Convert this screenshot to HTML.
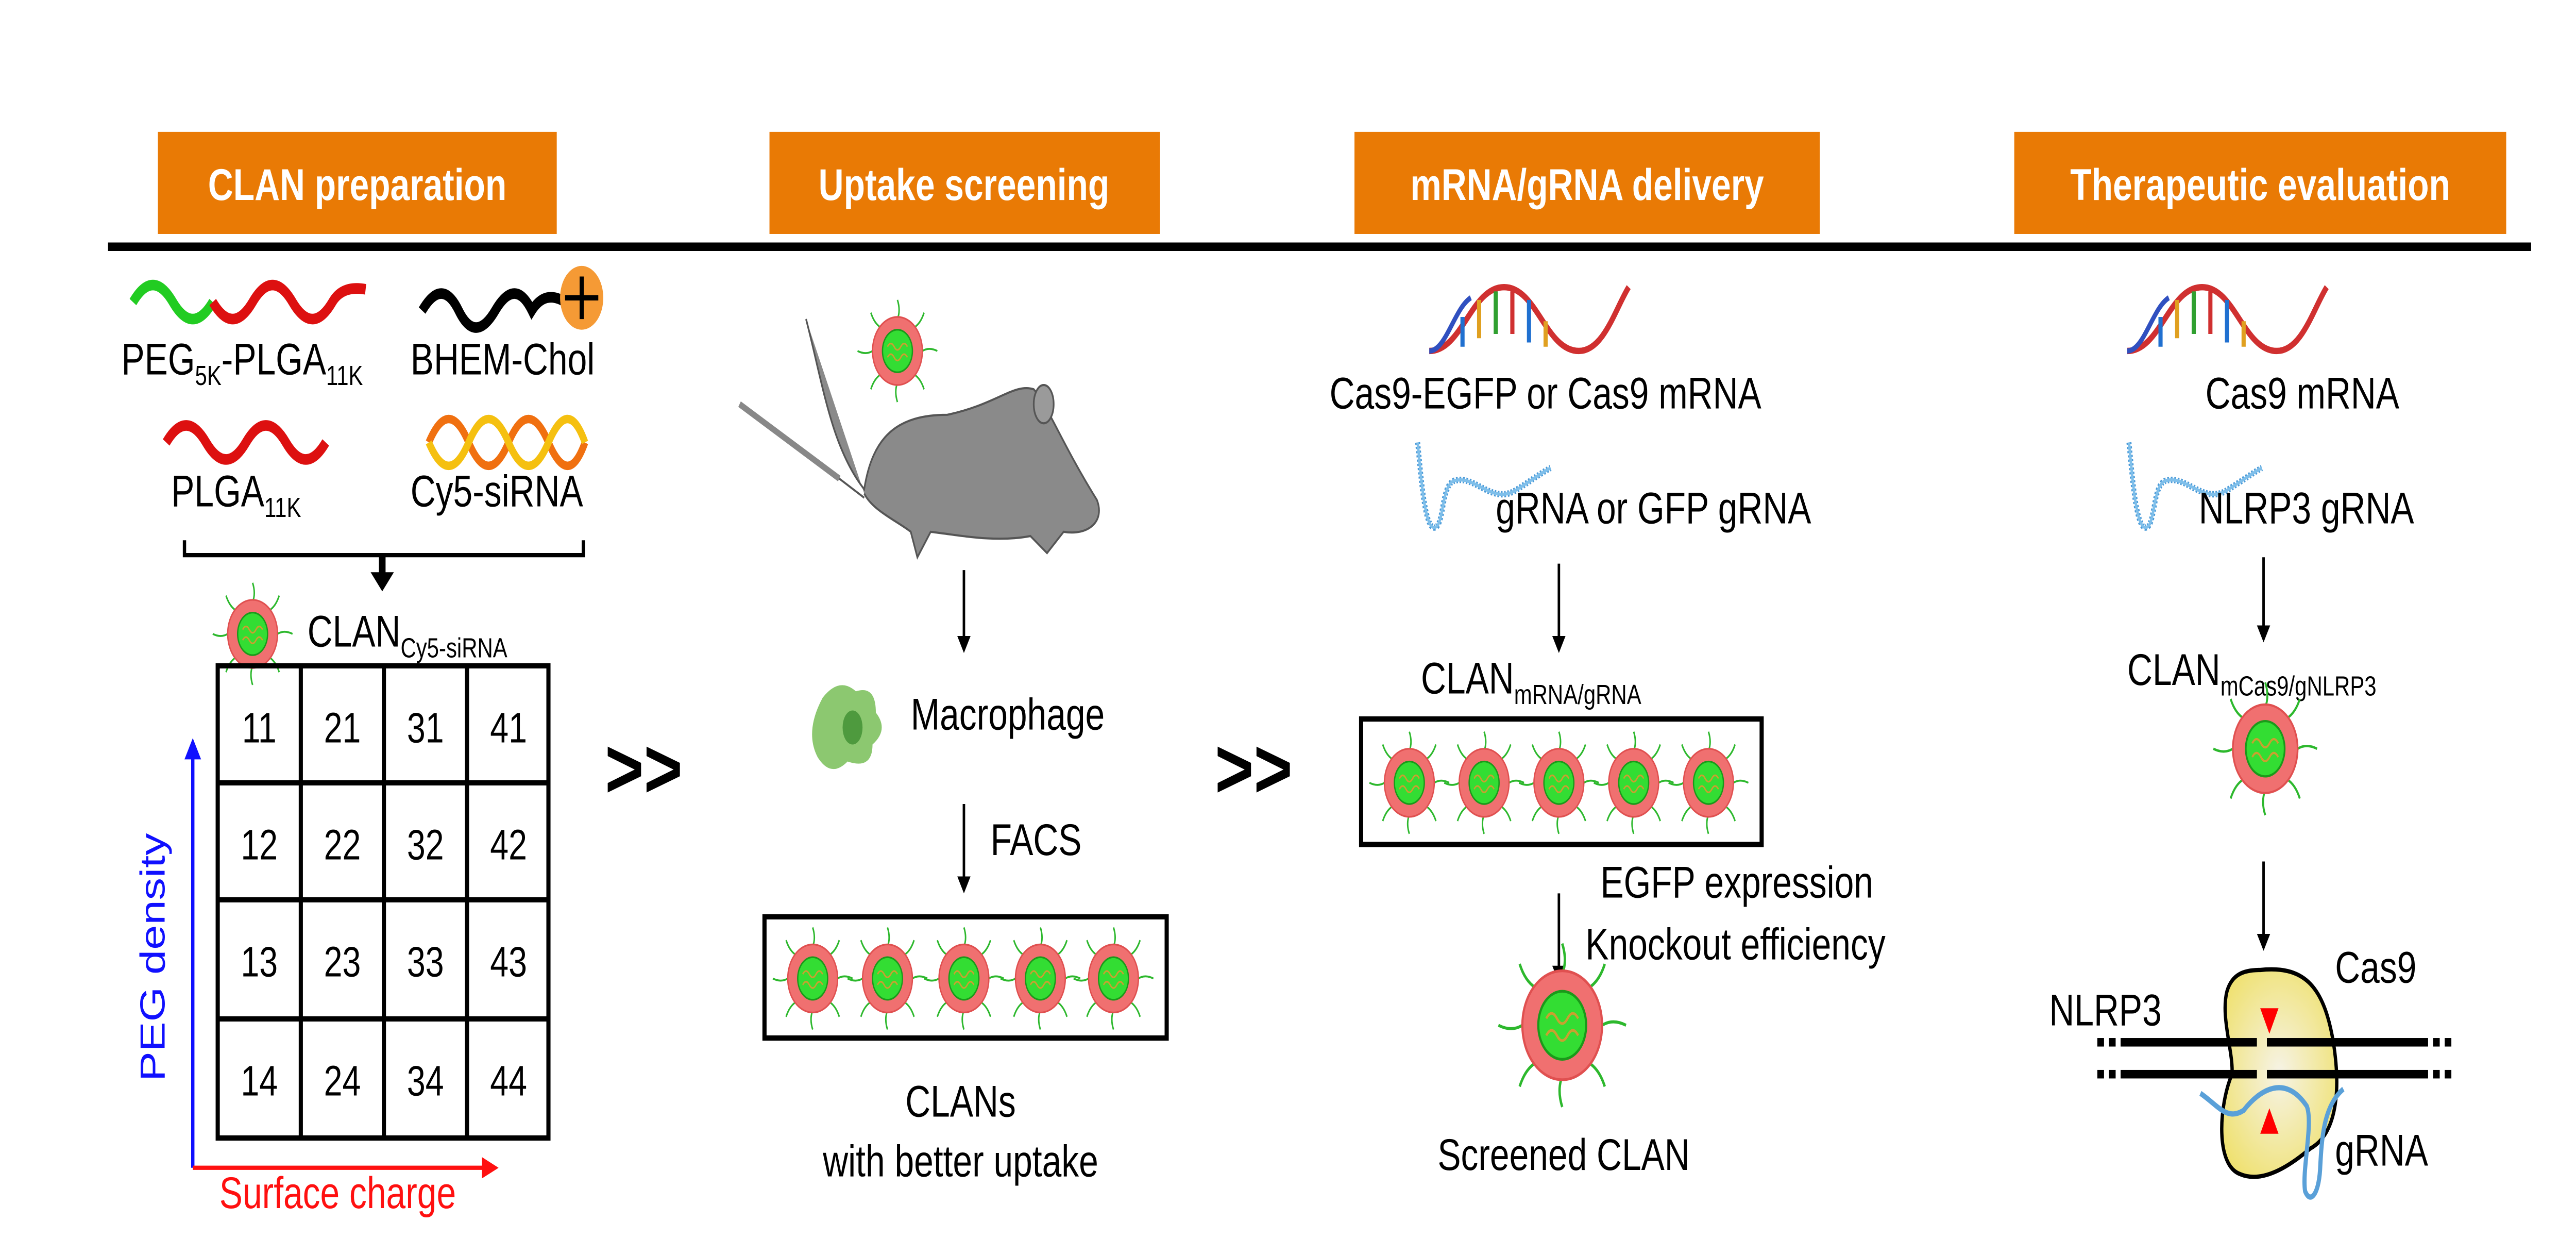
<!DOCTYPE html>
<html><head><meta charset="utf-8"><style>
html,body{margin:0;padding:0;background:#fff;width:100%;height:100%;overflow:hidden}
svg{display:block;position:fixed;left:0;top:0;width:100vw;height:100vh}
text{font-family:"Liberation Sans",Arial,sans-serif}
</style></head><body>
<svg viewBox="0 0 1550 590" preserveAspectRatio="none" xmlns="http://www.w3.org/2000/svg">
<defs>
<radialGradient id="yg" cx="0.5" cy="0.5" r="0.6"><stop offset="0" stop-color="#f6f3e6"/><stop offset="1" stop-color="#efe170"/></radialGradient>
<g id="np">
<g stroke="#2db82d" stroke-width="0.9" fill="none">
<path d="M0,-15 q2,-4 0,-9"/><path d="M0,15 q-2,4 0,9"/><path d="M-15,0 q-4,2 -9,0"/><path d="M15,0 q4,-2 9,0"/>
<path d="M10,-11 q4,-2 6,-7"/><path d="M-10,-11 q-4,-2 -6,-7"/><path d="M10,11 q4,2 6,7"/><path d="M-10,11 q-4,2 -6,7"/>
</g>
<ellipse rx="15" ry="16" fill="#f07070" stroke="#e05050" stroke-width="0.8"/>
<ellipse rx="9" ry="10" fill="#33dd33" stroke="#1a9a1a" stroke-width="0.8"/>
<path d="M-6,-2 q2,-3 4,0 t4,0 t4,0 M-6,3 q2,-3 4,0 t4,0 t4,0" stroke="#c9a030" stroke-width="0.8" fill="none"/>
</g>
<g id="helix">
<path d="M0,30 C20,30 25,0 45,0 C65,0 70,30 90,30 C105,30 112,10 120,0" stroke="#d03030" stroke-width="3" fill="none"/>
<path d="M0,30 C10,30 15,10 25,5" stroke="#3050c0" stroke-width="2.5" fill="none"/>
<g stroke-width="2.5"><line x1="20" y1="28" x2="20" y2="14" stroke="#2070d0"/><line x1="30" y1="24" x2="30" y2="6" stroke="#e0a020"/><line x1="40" y1="22" x2="40" y2="2" stroke="#30a030"/><line x1="50" y1="22" x2="50" y2="2" stroke="#d03030"/><line x1="60" y1="26" x2="60" y2="6" stroke="#2070d0"/><line x1="70" y1="28" x2="70" y2="16" stroke="#e0a020"/></g>
</g>
<g id="hair">
<path d="M0,0 C2,15 4,40 10,40 C16,40 14,20 22,18 C35,15 45,30 60,22 C70,17 75,14 80,12" stroke="#4a9ad8" stroke-width="3" fill="none" stroke-dasharray="1 1"/>
<path d="M0,0 C2,15 4,40 10,40 C16,40 14,20 22,18 C35,15 45,30 60,22 C70,17 75,14 80,12" stroke="#7fbfea" stroke-width="1.5" fill="none"/>
</g>
<marker id="ah" markerWidth="8" markerHeight="8" refX="4" refY="4" orient="auto" markerUnits="userSpaceOnUse"><path d="M0,0 L8,4 L0,8 z" fill="#000"/></marker>
<marker id="ab" markerWidth="10" markerHeight="10" refX="5" refY="5" orient="auto" markerUnits="userSpaceOnUse"><path d="M0,0 L10,5 L0,10 z" fill="#1010ff"/></marker>
<marker id="ar" markerWidth="10" markerHeight="10" refX="5" refY="5" orient="auto" markerUnits="userSpaceOnUse"><path d="M0,0 L10,5 L0,10 z" fill="#ff1010"/></marker>
</defs>
<g fill="#e97a05">
<rect x="95" y="62" width="240" height="48"/><rect x="463" y="62" width="235" height="48"/>
<rect x="815" y="62" width="280" height="48"/><rect x="1212" y="62" width="296" height="48"/>
</g>
<g fill="#fff" font-weight="bold" font-size="21" text-anchor="middle">
<text x="215" y="94">CLAN preparation</text><text x="580" y="94">Uptake screening</text>
<text x="955" y="94">mRNA/gRNA delivery</text><text x="1360" y="94">Therapeutic evaluation</text>
</g>
<rect x="65" y="114" width="1458" height="4" fill="#000"/>
<path d="M80,142 q12,-16 24,0 t24,0" stroke="#22cc22" stroke-width="5" fill="none"/>
<path d="M128,142 q12,16 24,0 t24,0 t24,0 q6,-8 20,-6" stroke="#dd1010" stroke-width="5" fill="none"/>
<path d="M254,146 q12,-16 22,0 t22,0 t22,0 q8,-10 20,-4" stroke="#000" stroke-width="5" fill="none"/>
<ellipse cx="350" cy="140" rx="13" ry="15" fill="#f59a35"/>
<path d="M350,130 v20 M340,140 h20" stroke="#000" stroke-width="2.5"/>
<g font-size="21" fill="#000">
<text x="73" y="176">PEG<tspan font-size="13" dy="5">5K</tspan><tspan dy="-5">-PLGA</tspan><tspan font-size="13" dy="5">11K</tspan></text>
<text x="247" y="176">BHEM-Chol</text>
<text x="103" y="238">PLGA<tspan font-size="13" dy="5">11K</tspan></text>
<text x="247" y="238">Cy5-siRNA</text>
<text x="185" y="304">CLAN<tspan font-size="13" dy="5">Cy5-siRNA</tspan></text>
</g>
<path d="M100,208 q12,-16 24,0 t24,0 t24,0 t24,0" stroke="#dd1010" stroke-width="5" fill="none"/>
<path d="M258,208 q12,-22 24,0 t24,0 t24,0 t22,0" stroke="#f07010" stroke-width="4" fill="none"/>
<path d="M258,208 q12,22 24,0 t24,0 t24,0 t22,0" stroke="#f5c010" stroke-width="4" fill="none"/>
<path d="M111,254 v7 h240 v-7" stroke="#000" stroke-width="2" fill="none"/>
<path d="M230,261 v10" stroke="#000" stroke-width="4"/>
<path d="M223,269 h14 l-7,9 z" fill="#000"/>
<use href="#np" x="152" y="298"/>
<g stroke="#000" stroke-width="2.5" fill="none">
<rect x="131" y="313" width="199" height="222"/>
<path d="M181,313 v222 M231,313 v222 M281,313 v222 M131,368 h199 M131,423 h199 M131,479 h199"/>
</g>
<g font-size="20" text-anchor="middle">
<text x="156" y="349">11</text><text x="206" y="349">21</text><text x="256" y="349">31</text><text x="306" y="349">41</text>
<text x="156" y="404">12</text><text x="206" y="404">22</text><text x="256" y="404">32</text><text x="306" y="404">42</text>
<text x="156" y="459">13</text><text x="206" y="459">23</text><text x="256" y="459">33</text><text x="306" y="459">43</text>
<text x="156" y="515">14</text><text x="206" y="515">24</text><text x="256" y="515">34</text><text x="306" y="515">44</text>
</g>
<line x1="116" y1="549" x2="116" y2="352" stroke="#1010ff" stroke-width="2" marker-end="url(#ab)"/>
<line x1="116" y1="549" x2="295" y2="549" stroke="#ff1010" stroke-width="2" marker-end="url(#ar)"/>
<text x="0" y="0" font-size="21" fill="#1010ff" text-anchor="middle" transform="translate(99,450) rotate(-90)">PEG density</text>
<text x="132" y="568" font-size="21" fill="#ff1010">Surface charge</text>
<g font-size="40" font-weight="bold"><text x="364" y="375">&gt;&gt;</text><text x="731" y="375">&gt;&gt;</text></g>
<use href="#np" x="540" y="165"/>
<path d="M485,150 C495,180 500,210 520,230 C525,205 540,195 570,195 C600,190 610,180 622,183 C630,190 640,210 660,235 C665,245 655,252 640,250 L630,260 L620,252 C600,255 580,252 560,250 L552,262 L548,250 C540,245 525,240 520,232" fill="#8a8a8a" stroke="#555" stroke-width="1"/>
<ellipse cx="628" cy="190" rx="6" ry="9" fill="#9a9a9a" stroke="#555" stroke-width="1"/>
<line x1="445" y1="190" x2="505" y2="225" stroke="#888" stroke-width="3"/>
<line x1="505" y1="225" x2="520" y2="234" stroke="#555" stroke-width="1"/>
<line x1="580" y1="268" x2="580" y2="303" stroke="#000" stroke-width="1.5" marker-end="url(#ah)"/>
<path d="M495,328 q10,-10 20,-3 q12,-3 12,10 q8,8 -2,15 q0,12 -15,8 q-10,8 -18,-2 q-8,-12 3,-28 z" fill="#8cc870"/>
<ellipse cx="513" cy="342" rx="6" ry="8" fill="#4e9a3e"/>
<text x="548" y="343" font-size="21">Macrophage</text>
<line x1="580" y1="378" x2="580" y2="416" stroke="#000" stroke-width="1.5" marker-end="url(#ah)"/>
<text x="596" y="402" font-size="21">FACS</text>
<rect x="460" y="431" width="242" height="57" fill="none" stroke="#000" stroke-width="2.5"/>
<use href="#np" x="489" y="460"/><use href="#np" x="534" y="460"/><use href="#np" x="580" y="460"/><use href="#np" x="626" y="460"/><use href="#np" x="670" y="460"/>
<g font-size="21" text-anchor="middle"><text x="578" y="525">CLANs</text><text x="578" y="553">with better uptake</text></g>
<use href="#helix" x="860" y="135"/>
<text x="800" y="192" font-size="21">Cas9-EGFP or Cas9 mRNA</text>
<use href="#hair" x="853" y="208"/>
<text x="900" y="246" font-size="21">gRNA or GFP gRNA</text>
<line x1="938" y1="265" x2="938" y2="303" stroke="#000" stroke-width="1.5" marker-end="url(#ah)"/>
<text x="855" y="326" font-size="21">CLAN<tspan font-size="13" dy="5">mRNA/gRNA</tspan></text>
<rect x="819" y="338" width="241" height="59" fill="none" stroke="#000" stroke-width="2.5"/>
<use href="#np" x="848" y="368"/><use href="#np" x="893" y="368"/><use href="#np" x="938" y="368"/><use href="#np" x="983" y="368"/><use href="#np" x="1028" y="368"/>
<line x1="938" y1="420" x2="938" y2="458" stroke="#000" stroke-width="1.5" marker-end="url(#ah)"/>
<text x="963" y="422" font-size="21">EGFP expression</text>
<text x="954" y="451" font-size="21">Knockout efficiency</text>
<use href="#np" transform="translate(940,482) scale(1.6)"/>
<text x="865" y="550" font-size="21">Screened CLAN</text>
<use href="#helix" x="1280" y="135"/>
<text x="1327" y="192" font-size="21">Cas9 mRNA</text>
<use href="#hair" x="1281" y="208"/>
<text x="1323" y="246" font-size="21">NLRP3 gRNA</text>
<line x1="1362" y1="262" x2="1362" y2="298" stroke="#000" stroke-width="1.5" marker-end="url(#ah)"/>
<text x="1280" y="322" font-size="21">CLAN<tspan font-size="13" dy="5">mCas9/gNLRP3</tspan></text>
<use href="#np" transform="translate(1363,352) scale(1.3)"/>
<line x1="1362" y1="405" x2="1362" y2="443" stroke="#000" stroke-width="1.5" marker-end="url(#ah)"/>
<path d="M1360,456 C1385,454 1398,462 1404,490 C1410,520 1402,535 1390,540 C1375,550 1360,556 1348,552 C1333,548 1335,520 1343,505 C1344,495 1336,478 1340,466 C1343,458 1350,456 1360,456 z" fill="url(#yg)" stroke="#000" stroke-width="2"/>
<g fill="#000">
<rect x="1262" y="488" width="4" height="4"/><rect x="1269" y="488" width="4" height="4"/><rect x="1276" y="488" width="82" height="4"/><rect x="1364" y="488" width="97" height="4"/><rect x="1464" y="488" width="4" height="4"/><rect x="1471" y="488" width="4" height="4"/>
<rect x="1262" y="503" width="4" height="4"/><rect x="1269" y="503" width="4" height="4"/><rect x="1276" y="503" width="82" height="4"/><rect x="1364" y="503" width="97" height="4"/><rect x="1464" y="503" width="4" height="4"/><rect x="1471" y="503" width="4" height="4"/>
</g>
<path d="M1360,474 h11 l-5.5,12 z M1360,533 h11 l-5.5,-12 z" fill="#ff0000"/>
<path d="M1324,514 C1335,520 1340,527 1350,522 C1360,512 1375,505 1388,520 C1392,528 1385,550 1387,560 C1390,566 1395,562 1396,550 C1397,535 1398,520 1410,512" stroke="#5aa0d8" stroke-width="2.5" fill="none"/>
<g font-size="21"><text x="1233" y="482">NLRP3</text><text x="1405" y="462">Cas9</text><text x="1405" y="548">gRNA</text></g>
</svg>
</body></html>
